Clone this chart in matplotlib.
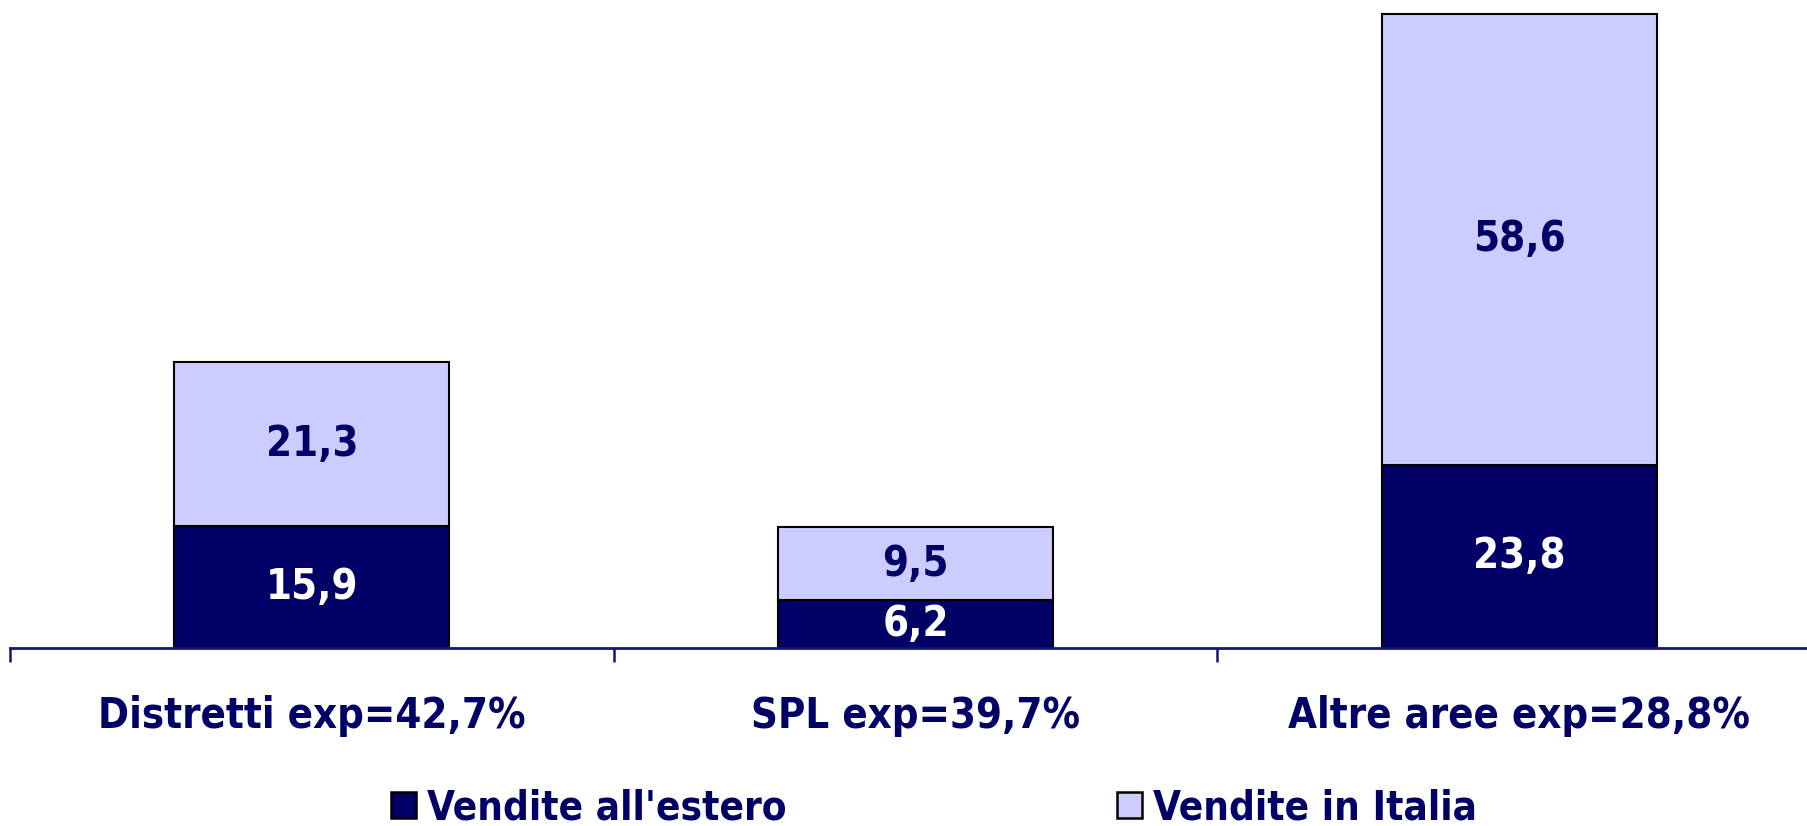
import matplotlib
matplotlib.use("Agg")
import matplotlib.pyplot as plt
from matplotlib.patches import Patch
from matplotlib.ticker import FixedLocator

# ── Data ──────────────────────────────────────────────────────────────────────
categories = ["Distretti exp=42,7%", "SPL exp=39,7%", "Altre aree exp=28,8%"]
estero = [15.9, 6.2, 23.8]
italia = [21.3, 9.5, 58.6]
series_names = ["Vendite all'estero", "Vendite in Italia"]

NAVY = "#000066"
LILAC = "#CCCCFF"
FONT = dict(family="DejaVu Sans", stretch="condensed", weight="bold")

# ── Figure ────────────────────────────────────────────────────────────────────
W, H, DPI = 1807, 826, 100
fig = plt.figure(figsize=(W / DPI, H / DPI), dpi=DPI)
ax = fig.add_axes([10 / W, 1 - 648 / H, 1811 / W, 648 / H])

x = range(len(categories))
ax.bar(x, estero, width=0.455, color=NAVY, edgecolor="black", linewidth=1.5)
ax.bar(x, italia, width=0.455, bottom=estero, color=LILAC,
       edgecolor="black", linewidth=1.5)

for i, (e, it) in enumerate(zip(estero, italia)):
    ax.text(i, e / 2, f"{e:.1f}".replace(".", ","), ha="center", va="center",
            color="white", fontsize=30, **FONT)
    ax.text(i, e + it / 2, f"{it:.1f}".replace(".", ","), ha="center",
            va="center", color=NAVY, fontsize=30, **FONT)

ax.set_xlim(-0.5, 2.5)
ax.set_ylim(0, 84.2)
for s in ["top", "right", "left"]:
    ax.spines[s].set_visible(False)
ax.spines["bottom"].set_color("#14147a")
ax.spines["bottom"].set_linewidth(2)
ax.set_yticks([])

ax.set_xticks(list(x))
ax.set_xticklabels(categories, color=NAVY, fontsize=30, **FONT)
ax.tick_params(axis="x", which="major", length=0, pad=34)
ax.xaxis.set_minor_locator(FixedLocator([-0.5, 0.5, 1.5, 2.5]))
ax.tick_params(axis="x", which="minor", length=10, width=1.8, color="#14147a")

handles = [Patch(facecolor=NAVY, edgecolor="black", linewidth=1.8),
           Patch(facecolor=LILAC, edgecolor="black", linewidth=1.8)]
fig.legend(handles, series_names, loc="center", bbox_to_anchor=(934 / W, 1 - 808 / H),
           ncol=2, frameon=False, handlelength=0.62, handleheight=0.62,
           handletextpad=0.28, columnspacing=8.2,
           prop=dict(size=29, **FONT), labelcolor=NAVY)

fig.savefig("out.png", dpi=DPI)
